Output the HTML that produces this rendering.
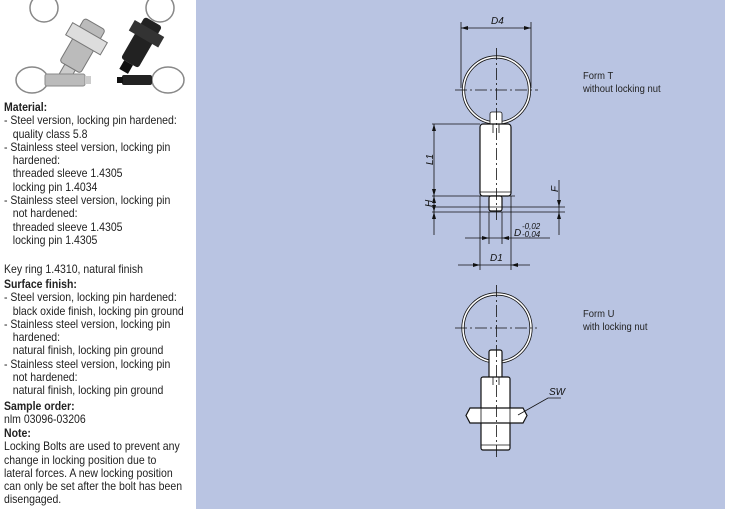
<!DOCTYPE html>
<html><head><meta charset="utf-8">
<style>
html,body{margin:0;padding:0;background:#fff;}
body{width:731px;height:513px;position:relative;overflow:hidden;font-family:"Liberation Sans",sans-serif;font-size:12px;color:#222;}
.t{position:absolute;left:4px;line-height:13.3px;white-space:nowrap;transform:scaleX(0.875);transform-origin:0 0;}
.t b{font-weight:bold;}
.i{padding-left:10px;}
#panel{position:absolute;left:196px;top:0;width:529px;height:509px;background:#b9c4e2;}
svg text{font-family:"Liberation Sans",sans-serif;}
</style></head><body>
<svg style="position:absolute;left:0;top:0" width="196" height="95">
 <g fill="none" stroke="#888" stroke-width="1.5">
  <circle cx="44" cy="8" r="14"/>
  <circle cx="160" cy="8" r="14"/>
  <ellipse cx="32" cy="80" rx="16" ry="13"/>
  <ellipse cx="168" cy="80" rx="16" ry="13"/>
 </g>
 <g transform="rotate(30 80 50)">
  <rect x="68" y="20" width="24" height="50" rx="3" fill="#bbb" stroke="#777"/>
  <rect x="60" y="30" width="40" height="14" fill="#ddd" stroke="#777"/>
  <rect x="74" y="70" width="12" height="12" fill="#ccc" stroke="#777"/>
 </g>
 <g transform="rotate(30 140 45)">
  <rect x="130" y="18" width="20" height="48" rx="3" fill="#222"/>
  <rect x="123" y="26" width="34" height="12" fill="#333"/>
  <rect x="134" y="66" width="10" height="10" fill="#111"/>
 </g>
 <rect x="45" y="74" width="40" height="12" rx="2" fill="#bbb" stroke="#888"/>
 <rect x="85" y="76" width="6" height="8" fill="#ccc"/>
 <rect x="122" y="75" width="30" height="10" rx="2" fill="#222"/>
 <rect x="117" y="77" width="6" height="6" fill="#111"/>
</svg>
<div class="t" style="top:101px"><b>Material:</b><br>- Steel version, locking pin hardened:<br><span class="i">quality class 5.8</span><br>- Stainless steel version, locking pin<br><span class="i">hardened:</span><br><span class="i">threaded sleeve 1.4305</span><br><span class="i">locking pin 1.4034</span><br>- Stainless steel version, locking pin<br><span class="i">not hardened:</span><br><span class="i">threaded sleeve 1.4305</span><br><span class="i">locking pin 1.4305</span></div>
<div class="t" style="top:263px">Key ring 1.4310, natural finish</div>
<div class="t" style="top:278px"><b>Surface finish:</b><br>- Steel version, locking pin hardened:<br><span class="i">black oxide finish, locking pin ground</span><br>- Stainless steel version, locking pin<br><span class="i">hardened:</span><br><span class="i">natural finish, locking pin ground</span><br>- Stainless steel version, locking pin<br><span class="i">not hardened:</span><br><span class="i">natural finish, locking pin ground</span></div>
<div class="t" style="top:400px"><b>Sample order:</b><br>nlm 03096-03206</div>
<div class="t" style="top:427px"><b>Note:</b><br>Locking Bolts are used to prevent any<br>change in locking position due to<br>lateral forces. A new locking position<br>can only be set after the bolt has been<br>disengaged.</div>
<div id="panel"></div>
<svg style="position:absolute;left:0;top:0" width="731" height="513">
 <g stroke="#111" stroke-width="0.8" fill="none">
  <line x1="461" y1="22" x2="461" y2="88"/><line x1="531" y1="22" x2="531" y2="88"/>
  <line x1="461" y1="28" x2="531" y2="28"/>
  <circle cx="496.5" cy="90" r="33" stroke-width="3.2" stroke="#111"/>
  <circle cx="496.5" cy="90" r="33" stroke-width="1.6" stroke="#fff"/>
  <rect x="490" y="112" width="12" height="16" rx="2" fill="#fff"/>
  <rect x="480" y="124" width="31" height="72" rx="3" fill="#fff" stroke-width="1.2"/>
  <rect x="489" y="196" width="13" height="15" rx="2" fill="#fff" stroke-width="1.2"/>
  <line x1="493" y1="124" x2="493" y2="133"/><line x1="499" y1="124" x2="499" y2="133"/>
  <line x1="480" y1="192" x2="511" y2="192"/>
  <line x1="496.5" y1="48" x2="496.5" y2="222" stroke-dasharray="12,3,2,3"/>
  <line x1="455" y1="90" x2="538" y2="90" stroke-dasharray="12,3,2,3"/>
  <line x1="432" y1="124" x2="480" y2="124"/>
  <line x1="434" y1="124" x2="434" y2="235"/>
  <line x1="432" y1="196" x2="515" y2="196"/>
  <line x1="432" y1="207" x2="565" y2="207"/>
  <line x1="432" y1="212" x2="565" y2="212"/>
  <line x1="559" y1="180" x2="559" y2="235"/>
  <line x1="489" y1="212" x2="489" y2="244"/><line x1="502" y1="212" x2="502" y2="244"/>
  <line x1="465" y1="238" x2="550" y2="238"/>
  <line x1="480" y1="196" x2="480" y2="270"/><line x1="511" y1="196" x2="511" y2="270"/>
  <line x1="458" y1="265" x2="530" y2="265"/>
  <circle cx="497" cy="328" r="34" stroke-width="3.2" stroke="#111"/>
  <circle cx="497" cy="328" r="34" stroke-width="1.6" stroke="#fff"/>
  <rect x="489" y="350" width="13" height="30" rx="2" fill="#fff" stroke-width="1.2"/>
  <rect x="481" y="377" width="29" height="73" rx="2" fill="#fff" stroke-width="1.2"/>
  <line x1="493" y1="377" x2="493" y2="385"/><line x1="499" y1="377" x2="499" y2="385"/>
  <path d="M470 408 H523 L527 415.5 L523 423 H470 L466 415.5 Z" fill="#fff" stroke-width="1.2"/>
  <line x1="481" y1="408" x2="481" y2="423"/><line x1="510" y1="408" x2="510" y2="423"/>
  <line x1="481" y1="445" x2="510" y2="445"/>
  <line x1="496.5" y1="285" x2="496.5" y2="458" stroke-dasharray="12,3,2,3"/>
  <line x1="455" y1="328" x2="537" y2="328" stroke-dasharray="12,3,2,3"/>
  <polyline points="518,415 548,398 561,398"/>
 </g>
 <g fill="#111">
  <path d="M461 28 l7 -2 v4z M531 28 l-7 -2 v4z"/>
  <path d="M434 124 l-2 7 h4z M434 196 l-2 -7 h4z M434 196 l-2 7 h4z M434 212 l-2 -7 h4z M434 212 l-2 7 h4z"/>
  <path d="M559 207 l-2 -7 h4z M559 212 l-2 7 h4z"/>
  <path d="M489 238 l-7 -2 v4z M502 238 l7 -2 v4z"/>
  <path d="M480 265 l-7 -2 v4z M511 265 l7 -2 v4z"/>
 </g>
 <g font-size="10" font-style="italic" fill="#111">
  <text x="491" y="24">D4</text>
  <text x="433" y="165" transform="rotate(-90 433 165)">L1</text>
  <text x="432" y="207" transform="rotate(-90 432 207)">H</text>
  <text x="558" y="192" transform="rotate(-90 558 192)">F</text>
  <text x="514" y="236">D</text>
  <text x="522" y="229" font-size="8">-0,02</text>
  <text x="522" y="237" font-size="8">-0,04</text>
  <text x="490" y="261">D1</text>
  <text x="549" y="395">SW</text>
 </g>
 <g font-size="10.5" fill="#222" transform="translate(583 0) scale(0.9 1)">
  <text x="0" y="79">Form T</text>
  <text x="0" y="92">without locking nut</text>
  <text x="0" y="317">Form U</text>
  <text x="0" y="330">with locking nut</text>
 </g>
</svg>
</body></html>
